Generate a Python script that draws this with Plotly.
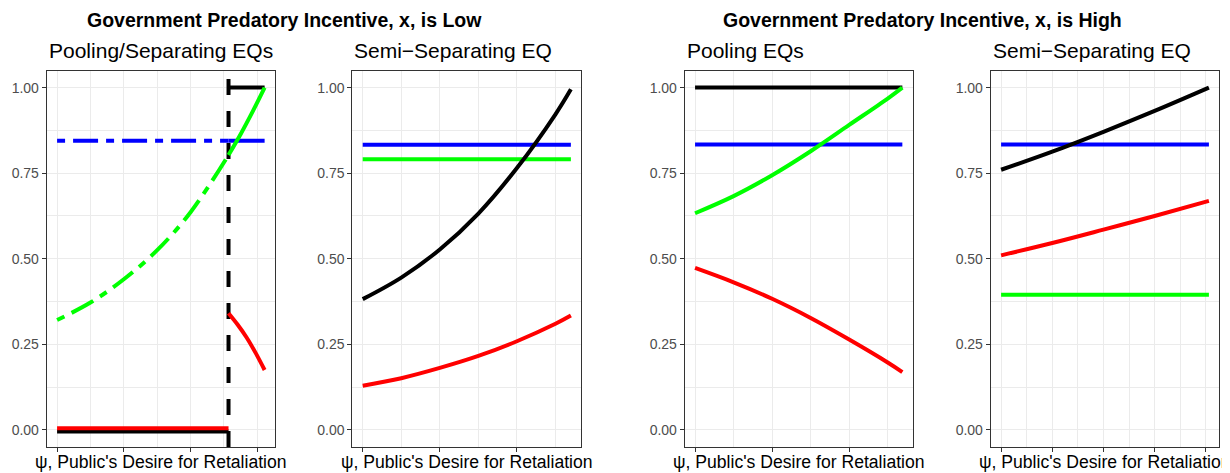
import plotly.graph_objects as go

# The page body adds an 8px margin, so the figure is 8px smaller and all
# pixel positions below are shifted by that offset.
OFF = 8
W, H = 1230 - OFF, 473 - OFF

# ---------------- data ----------------
# Panel 1: x low, pooling / separating equilibria
p1_cut = 2.569
p1_psi_dash = [0.0, 0.5, 1.0, 1.5, 2.0, 2.569]
p1_green_dash = [0.321, 0.372, 0.440, 0.525, 0.636, 0.803]
p1_psi_solid = [2.569, 2.75, 2.93, 3.11]
p1_green_solid = [0.803, 0.864, 0.930, 1.0]
p1_psi_red_hi = [2.569, 2.704, 2.84, 2.975, 3.11]
p1_red_hi = [0.341, 0.308, 0.270, 0.225, 0.175]
p1_psi_low = [0.0, 2.569]
p1_red_low = [0.005, 0.005]
p1_black_low = [-0.005, -0.005]
p1_psi_high = [2.569, 3.11]
p1_black_high = [1.0, 1.0]
p1_blue = 0.845

# Panel 2: x low, semi-separating
p2_psi = [0.0, 0.5, 1.0, 1.5, 2.0, 2.5, 2.70]
p2_black = [0.382, 0.445, 0.527, 0.632, 0.765, 0.922, 0.995]
p2_red = [0.129, 0.151, 0.181, 0.216, 0.259, 0.310, 0.334]
p2_blue = 0.833
p2_green = 0.791

# Panel 3: x high, pooling
p3_psi = [0.0, 0.5, 1.0, 1.5, 2.0, 2.5, 2.69]
p3_green = [0.633, 0.683, 0.744, 0.814, 0.891, 0.968, 1.0]
p3_red = [0.473, 0.431, 0.383, 0.327, 0.264, 0.197, 0.169]
p3_black = 1.0
p3_blue = 0.834

# Panel 4: x high, semi-separating
p4_psi = [0.0, 1.0, 2.0, 3.0, 4.06]
p4_black = [0.760, 0.813, 0.871, 0.932, 1.0]
p4_red = [0.510, 0.546, 0.585, 0.625, 0.669]
p4_blue = 0.834
p4_green = 0.395

y_ticks = [0, 0.25, 0.5, 0.75, 1.0]
y_labels = ["0.00", "0.25", "0.50", "0.75", "1.00"]

group_titles = ["Government Predatory Incentive, x, is Low",
                "Government Predatory Incentive, x, is High"]
panel_titles = ["Pooling/Separating EQs", "Semi\u2212Separating EQ",
                "Pooling EQs", "Semi\u2212Separating EQ"]
x_title = "\u03c8, Public's Desire for Retaliation"

# ---------------- layout constants ----------------
FONT = "Liberation Sans, Arial, Helvetica, sans-serif"
LW = 4
TWODASH = "8px,8px,25px,8px"
BLUE, GREEN, RED, BLACK = "#0000FF", "#00FF00", "#FF0000", "#000000"

panels_px = [(46.7, 275.0), (352.3, 581.3), (684.7, 912.7), (990.7, 1219.3)]
y_top_px, y_bot_px = 70.5, 447.0
x_ranges = []
for lo, hi in [(0, 3.11), (0, 2.70), (0, 2.69), (0, 4.06)]:
    span = hi - lo
    x_ranges.append([lo - 0.05 * span, hi + 0.05 * span])


def px_x(px):
    return (px - OFF) / W


def px_y(py):
    return 1 - (py - OFF) / H


fig = go.Figure()


def line(ax, x, y, color, dash="solid", shape="spline"):
    fig.add_trace(go.Scatter(
        x=x, y=y, mode="lines", xaxis="x" + ax, yaxis="y" + ax,
        line=dict(color=color, width=LW, dash=dash, shape=shape, smoothing=1.0),
        showlegend=False, hoverinfo="skip"))


# Panel 1
line("", [p1_cut, p1_cut], [-0.05, 1.05], BLACK, dash="16px,16px", shape="linear")
line("", p1_psi_low, p1_black_low, BLACK, shape="linear")
line("", p1_psi_high, p1_black_high, BLACK, shape="linear")
line("", p1_psi_low, [p1_blue, p1_blue], BLUE, dash=TWODASH, shape="linear")
line("", p1_psi_high, [p1_blue, p1_blue], BLUE, shape="linear")
line("", p1_psi_low, p1_red_low, RED, shape="linear")
line("", p1_psi_red_hi, p1_red_hi, RED)
line("", p1_psi_dash, p1_green_dash, GREEN, dash=TWODASH)
line("", p1_psi_solid, p1_green_solid, GREEN)

# Panel 2
line("2", [p2_psi[0], p2_psi[-1]], [p2_blue, p2_blue], BLUE, shape="linear")
line("2", [p2_psi[0], p2_psi[-1]], [p2_green, p2_green], GREEN, shape="linear")
line("2", p2_psi, p2_red, RED)
line("2", p2_psi, p2_black, BLACK)

# Panel 3
line("3", [p3_psi[0], p3_psi[-1]], [p3_black, p3_black], BLACK, shape="linear")
line("3", [p3_psi[0], p3_psi[-1]], [p3_blue, p3_blue], BLUE, shape="linear")
line("3", p3_psi, p3_red, RED)
line("3", p3_psi, p3_green, GREEN)

# Panel 4
line("4", [p4_psi[0], p4_psi[-1]], [p4_blue, p4_blue], BLUE, shape="linear")
line("4", [p4_psi[0], p4_psi[-1]], [p4_green, p4_green], GREEN, shape="linear")
line("4", p4_psi, p4_red, RED)
line("4", p4_psi, p4_black, BLACK)

layout = dict(
    width=W, height=H, margin=dict(l=0, r=0, t=0, b=0),
    paper_bgcolor="white", plot_bgcolor="white",
    font=dict(family=FONT), showlegend=False,
)
ydom = [px_y(y_bot_px), px_y(y_top_px)]
for i, ((l, r), xr) in enumerate(zip(panels_px, x_ranges)):
    sfx = "" if i == 0 else str(i + 1)
    layout["xaxis" + sfx] = dict(
        domain=[px_x(l), px_x(r)], range=xr, anchor="y" + sfx,
        tick0=0, dtick=1, ticks="outside", ticklen=4, tickwidth=1,
        tickcolor="#333333", showticklabels=False,
        showgrid=True, gridcolor="#EBEBEB", gridwidth=1.1,
        minor=dict(dtick=0.5, tick0=0, showgrid=True, gridcolor="#EBEBEB",
                   gridwidth=0.6, ticks=""),
        showline=True, mirror=True, linecolor="#333333", linewidth=1,
        zeroline=False, fixedrange=True)
    layout["yaxis" + sfx] = dict(
        domain=ydom, range=[-0.05, 1.05], anchor="x" + sfx,
        tickvals=y_ticks, ticktext=y_labels, ticks="outside", ticklen=4,
        tickwidth=1, tickcolor="#333333",
        tickfont=dict(size=14, color="#4D4D4D", family=FONT),
        showgrid=True, gridcolor="#EBEBEB", gridwidth=1.1,
        minor=dict(dtick=0.125, tick0=0, showgrid=True, gridcolor="#EBEBEB",
                   gridwidth=0.6, ticks=""),
        showline=True, mirror=True, linecolor="#333333", linewidth=1,
        zeroline=False, fixedrange=True)

ann = []
for t, cx in zip(group_titles, [284.5, 922.5]):
    ann.append(dict(text="<b>" + t + "</b>", x=px_x(cx), y=px_y(19.5),
                    xref="paper", yref="paper", xanchor="center", yanchor="middle",
                    showarrow=False, font=dict(size=19.5, color="black", family=FONT)))
for t, (l, r) in zip(panel_titles, panels_px):
    ann.append(dict(text=t, x=px_x(l), y=px_y(50), xref="paper", yref="paper",
                    xanchor="left", yanchor="middle", showarrow=False,
                    font=dict(size=21, color="black", family=FONT)))
    ann.append(dict(text=x_title, x=px_x((l + r) / 2), y=px_y(462),
                    xref="paper", yref="paper", xanchor="center", yanchor="middle",
                    showarrow=False, font=dict(size=17.6, color="black", family=FONT)))
layout["annotations"] = ann

fig.update_layout(**layout)
fig.write_html("out.html")
